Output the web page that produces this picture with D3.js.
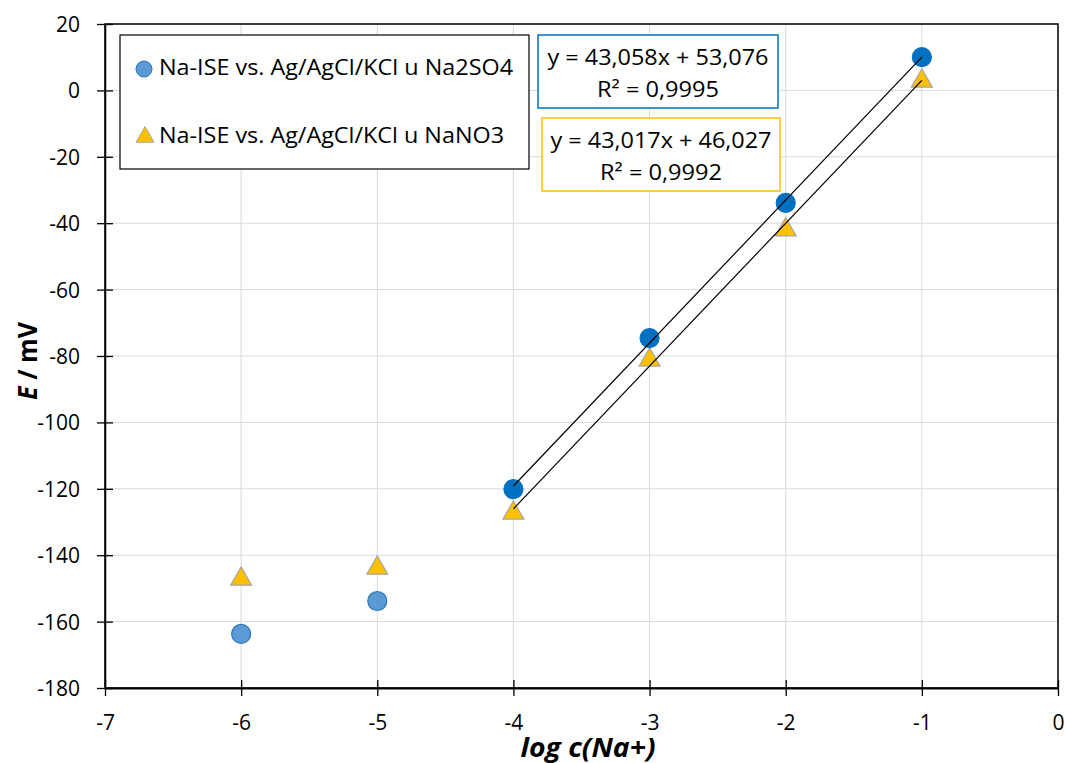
<!DOCTYPE html>
<html><head><meta charset="utf-8">
<script src="https://cdn.jsdelivr.net/npm/d3@7"></script>
<style>body{margin:0;background:#fff}svg{display:block}text{font-family:"Open Sans","Liberation Sans",sans-serif}</style>
</head><body>
<svg id="c" width="1067" height="763"></svg>
<script>
const logC = [-6, -5, -4, -3, -2, -1];
const eNa2SO4 = [-163.7, -153.8, -120.1, -74.6, -33.9, 10.0];
const eNaNO3 = [-146.9, -143.6, -127.0, -80.9, -41.7, 3.1];
const fitRange = [-4, -1];
const fitNa2SO4 = {slope: 43.058, intercept: 53.076, r2: "0,9995", eq: "y = 43,058x + 53,076"};
const fitNaNO3 = {slope: 43.017, intercept: 46.027, r2: "0,9992", eq: "y = 43,017x + 46,027"};
const xTicks = [-7, -6, -5, -4, -3, -2, -1, 0];
const yTicks = [20, 0, -20, -40, -60, -80, -100, -120, -140, -160, -180];
const legendLabels = ["Na-ISE vs. Ag/AgCl/KCl u Na2SO4", "Na-ISE vs. Ag/AgCl/KCl u NaNO3"];

const svg = d3.select("#c");
const L = 105, R = 1058, T = 24, B = 688;
const x = d3.scaleLinear().domain([-7, 0]).range([L, R]);
const y = d3.scaleLinear().domain([-180, 20]).range([B, T]);

// grid
svg.append("g").selectAll("line").data(xTicks).join("line")
  .attr("x1", d => x(d)).attr("x2", d => x(d)).attr("y1", T).attr("y2", B)
  .attr("stroke", "#d9d9d9").attr("stroke-width", 1);
svg.append("g").selectAll("line").data(yTicks).join("line")
  .attr("x1", L).attr("x2", R).attr("y1", d => y(d)).attr("y2", d => y(d))
  .attr("stroke", "#d9d9d9").attr("stroke-width", 1);

// frame
svg.append("rect").attr("x", L).attr("y", T).attr("width", R - L).attr("height", B - T)
  .attr("fill", "none").attr("stroke", "#000").attr("stroke-width", 1.5);

// axes
const xAxis = d3.axisBottom(x).tickValues(xTicks).tickSizeInner(8).tickSizeOuter(0);
const gx = svg.append("g").attr("transform", `translate(0,${B})`).call(xAxis);
gx.select(".domain").attr("stroke", "#000").attr("stroke-width", 2);
gx.selectAll(".tick line").attr("y1", -8).attr("y2", 8).attr("stroke", "#000").attr("stroke-width", 1.3);
gx.selectAll(".tick text").attr("y", 42).attr("dy", 0).attr("font-size", 21).attr("fill", "#000")
  .attr("font-family", "'Open Sans',sans-serif")
  .text(d => d === 0 ? "0" : "-" + Math.abs(d));

const yAxis = d3.axisLeft(y).tickValues(yTicks).tickSizeInner(8).tickSizeOuter(0);
const gy = svg.append("g").attr("transform", `translate(${L},0)`).call(yAxis);
gy.select(".domain").attr("stroke", "#000").attr("stroke-width", 1.5);
gy.selectAll(".tick line").attr("x1", -8).attr("x2", 8).attr("stroke", "#000").attr("stroke-width", 1.3);
gy.selectAll(".tick text").attr("x", -25).attr("dy", "0.36em").attr("font-size", 21).attr("fill", "#000")
  .attr("font-family", "'Open Sans',sans-serif")
  .text(d => d < 0 ? "-" + Math.abs(d) : String(d));

// axis titles
svg.append("text").attr("x", 588).attr("y", 757).attr("text-anchor", "middle")
  .attr("font-size", 27).attr("font-weight", "bold").attr("font-style", "italic")
  .attr("textLength", 135).attr("lengthAdjust", "spacingAndGlyphs").text("log c(Na+)");
const yt = svg.append("text").attr("transform", `translate(37,361) rotate(-90)`).attr("text-anchor", "middle")
  .attr("font-size", 27).attr("font-weight", "bold").attr("textLength", 78).attr("lengthAdjust", "spacingAndGlyphs");
yt.append("tspan").attr("font-style", "italic").text("E");
yt.append("tspan").text(" / mV");

// triangles
const tri = d3.symbol().type(d3.symbolTriangle).size(190);
svg.append("g").selectAll("path").data(logC.map((c, i) => [c, eNaNO3[i]])).join("path")
  .attr("d", tri).attr("transform", d => `translate(${x(d[0])},${y(d[1]) + 1})`)
  .attr("fill", "#ffc000").attr("stroke", "#a5a5a5").attr("stroke-width", 1.2);

// circles
svg.append("g").selectAll("circle").data(logC.map((c, i) => [c, eNa2SO4[i]])).join("circle")
  .attr("cx", d => x(d[0])).attr("cy", d => y(d[1])).attr("r", 9.5)
  .attr("fill", d => d[0] <= -5 ? "#5b9bd5" : "#0070c0")
  .attr("stroke", d => d[0] <= -5 ? "#2e75b6" : "#0070c0").attr("stroke-width", 1.2);

// trendlines (over markers)
[fitNa2SO4, fitNaNO3].forEach(f => {
  svg.append("line")
    .attr("x1", x(fitRange[0])).attr("y1", y(f.slope * fitRange[0] + f.intercept))
    .attr("x2", x(fitRange[1])).attr("y2", y(f.slope * fitRange[1] + f.intercept))
    .attr("stroke", "#000").attr("stroke-width", 1.2);
});

// legend
svg.append("rect").attr("x", 120).attr("y", 35).attr("width", 409).attr("height", 134)
  .attr("fill", "#fff").attr("stroke", "#000").attr("stroke-width", 1.2);
svg.append("circle").attr("cx", 144).attr("cy", 69).attr("r", 8)
  .attr("fill", "#5b9bd5").attr("stroke", "#2e75b6").attr("stroke-width", 1);
svg.append("path").attr("d", d3.symbol().type(d3.symbolTriangle).size(140)).attr("transform", "translate(145,137)")
  .attr("fill", "#ffc000").attr("stroke", "#a5a5a5").attr("stroke-width", 1);
const legendBase = [75, 143];
legendLabels.forEach((t, i) => {
  svg.append("text").attr("x", 159).attr("y", legendBase[i]).attr("font-size", 21).attr("fill", "#000")
    .attr("textLength", i === 0 ? 354 : 345).attr("lengthAdjust", "spacingAndGlyphs").text(t);
});

// equation boxes
function eqBox(f, bx, by, w, h, col) {
  svg.append("rect").attr("x", bx).attr("y", by).attr("width", w).attr("height", h)
    .attr("fill", "#fff").attr("stroke", col).attr("stroke-width", 1.5);
  svg.append("text").attr("x", bx + w / 2).attr("y", by + 30).attr("text-anchor", "middle")
    .attr("font-size", 21).attr("textLength", 221).attr("lengthAdjust", "spacingAndGlyphs").text(f.eq);
  svg.append("text").attr("x", bx + w / 2).attr("y", by + 62).attr("text-anchor", "middle")
    .attr("font-size", 21).attr("textLength", 122).attr("lengthAdjust", "spacingAndGlyphs").text("R² = " + f.r2);
}
eqBox(fitNa2SO4, 538, 35, 240, 73, "#0070c0");
eqBox(fitNaNO3, 542, 118, 238, 73, "#ffc000");
</script>
</body></html>
